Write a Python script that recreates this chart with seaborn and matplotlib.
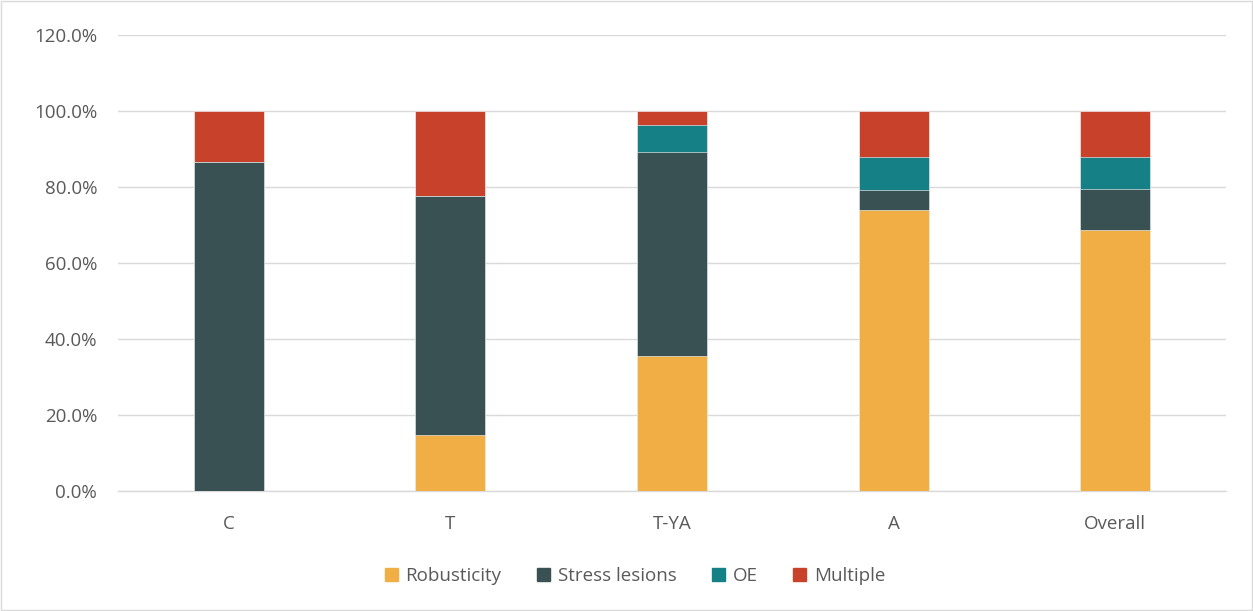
import matplotlib
matplotlib.use("Agg")
import matplotlib.pyplot as plt
import matplotlib.patches as mpatches
from matplotlib.ticker import FuncFormatter
import seaborn as sns
import pandas as pd
import numpy as np

categories = ["C", "T", "T-YA", "A", "Overall"]
robusticity = [0.0, 14.7, 35.6, 73.9, 68.7]
stress_lesions = [86.7, 63.0, 53.7, 5.2, 10.9]
oe = [0.0, 0.0, 7.0, 8.9, 8.4]
multiple = [13.3, 22.3, 3.7, 12.0, 12.0]

series = ["Robusticity", "Stress lesions", "OE", "Multiple"]
colors = ["#F0AE45", "#3A5153", "#158086", "#C8412B"]

df = pd.DataFrame({
    "category": categories,
    "Robusticity": robusticity,
    "Stress lesions": stress_lesions,
    "OE": oe,
    "Multiple": multiple,
})
cum = df[series].cumsum(axis=1)

sns.set_theme(style="white")
plt.rcParams["font.family"] = ["Open Sans", "DejaVu Sans"]

fig = plt.figure(figsize=(12.53, 6.11), dpi=100)
ax = fig.add_axes([118 / 1253, 1 - 491 / 611, (1226 - 118) / 1253, (491 - 35) / 611])

# Stacked bars: draw cumulative totals from the top series down
for name, color in reversed(list(zip(series, colors))):
    sns.barplot(x=df["category"], y=cum[name], color=color, width=0.316,
                saturation=1, ax=ax, zorder=3, edgecolor="white", linewidth=0.4)

ax.set_ylim(0, 120)
ax.set_xlim(-0.5, 4.5)
ax.set_yticks(np.arange(0, 121, 20))
ax.yaxis.set_major_formatter(FuncFormatter(lambda v, p: f"{v:.1f}%"))
ax.grid(axis="y", color="#D9D9D9", linewidth=1, zorder=0)
ax.set_axisbelow(True)
for s in ["top", "right", "left"]:
    ax.spines[s].set_visible(False)
ax.spines["bottom"].set_color("#D9D9D9")
ax.spines["bottom"].set_linewidth(1)
ax.set_xlabel("")
ax.set_ylabel("")
ax.tick_params(axis="both", length=0, labelsize=13.5, labelcolor="#595959")
ax.tick_params(axis="y", pad=15)
ax.tick_params(axis="x", pad=17)

handles = [mpatches.Patch(color=c, label=n) for n, c in zip(series, colors)]
fig.legend(handles=handles, loc="center", bbox_to_anchor=(635 / 1253, 1 - 576 / 611),
           ncol=4, frameon=False, fontsize=13.5, labelcolor="#595959",
           handlelength=0.7, handleheight=0.7, handletextpad=0.4, columnspacing=1.9)

fig.patches.append(mpatches.Rectangle((0.0008, 0.0016), 0.9984, 0.9968, transform=fig.transFigure,
                                      fill=False, edgecolor="#D9D9D9", linewidth=1))

fig.savefig("out.png", dpi=100, facecolor="white")
